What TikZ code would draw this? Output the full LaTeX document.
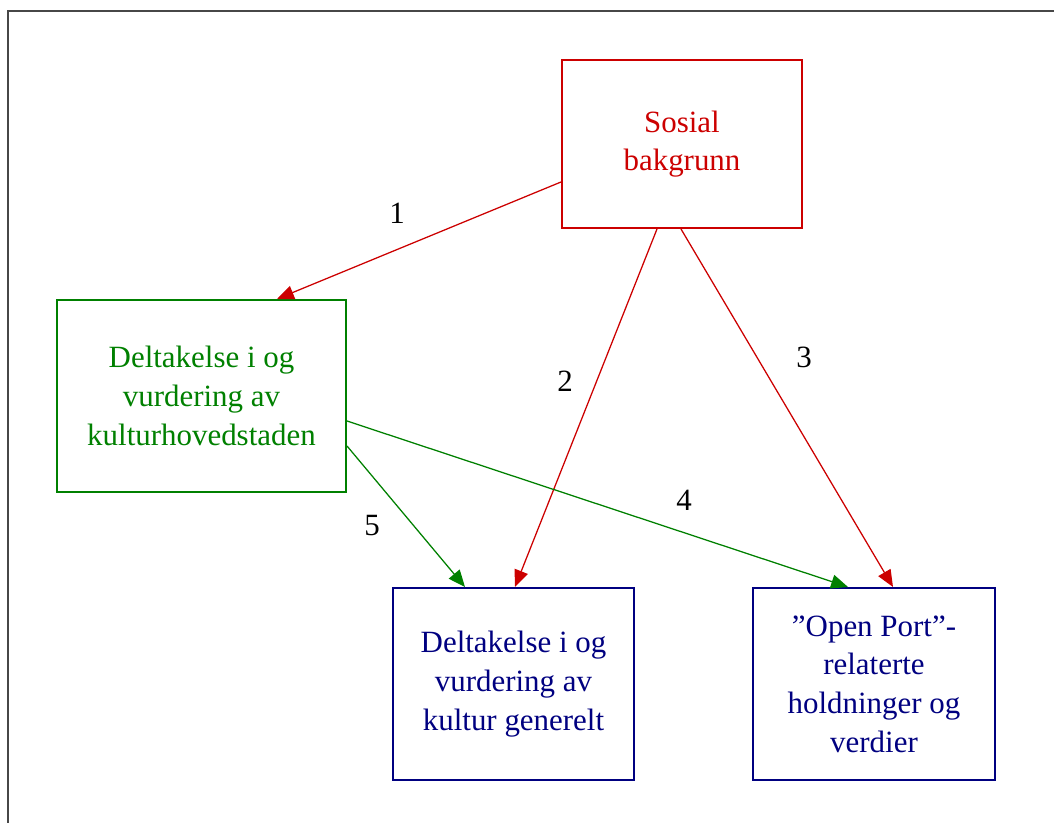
\documentclass[tikz,border=0pt]{standalone}
\usepackage{fontspec}
\setmainfont{Liberation Serif}
\usetikzlibrary{arrows.meta,calc}
\definecolor{bgred}{RGB}{204,0,0}
\definecolor{kgreen}{RGB}{0,128,0}
\definecolor{kblue}{RGB}{0,0,128}
\begin{document}
\begin{tikzpicture}
    [%%%%%%%%%%%%%%%%%%%%%%%%%%%%%%
        x=0.025cm, y=-0.025cm,
        every node/.style={font=\fontsize{22}{27.5}\selectfont},
        box/.style={rectangle, draw, line width=1.4pt, align=center, inner sep=0pt},
        redbox/.style={box, draw=bgred, text=bgred, minimum width=6cm, minimum height=4.2cm},
        greenbox/.style={box, draw=kgreen, text=kgreen, minimum width=7.225cm, minimum height=4.8cm},
        bluebox/.style={box, draw=kblue, text=kblue, minimum width=6.025cm, minimum height=4.8cm},
        link/.style={line width=0.9pt, -{Triangle[length=12pt,width=10pt]}},
        num/.style={inner sep=0pt},
    ]%%%%%%%%%%%%%%%%%%%%%%%%%%%%%%
\useasboundingbox (0,0) rectangle (1054,823);
\draw[line width=2pt, color=black!72] (8,823) -- (8,11) -- (1054,11);

\node[redbox] (sosial) at (682,144) {Sosial\\bakgrunn};
\node[greenbox] (kulturhs) at (201.5,396) {Deltakelse i og\\vurdering av\\kulturhovedstaden};
\node[bluebox] (kultur) at (513.5,684) {Deltakelse i og\\vurdering av\\kultur generelt};
\node[bluebox] (openport) at (874,684) {”Open Port”-\\relaterte\\holdninger og\\verdier};

\draw[link, color=bgred] ($(sosial.west)+(0,38)$) -- ($(kulturhs.north)+(75.5,0)$);
\draw[link, color=bgred] ($(sosial.south)+(-25,0)$) -- ($(kultur.north)+(1.5,0)$);
\draw[link, color=bgred] ($(sosial.south)+(-1,0)$) -- ($(openport.north)+(19,0)$);
\draw[link, color=kgreen] ($(kulturhs.east)+(0,25)$) -- ($(openport.north)+(-26,0)$);
\draw[link, color=kgreen] ($(kulturhs.east)+(0,50)$) -- ($(kultur.north)+(-48.5,0)$);

\node[num] (n1) at (397,213) {1};
\node[num] (n2) at (565,381) {2};
\node[num] (n3) at (804,357) {3};
\node[num] (n4) at (684,500) {4};
\node[num] (n5) at (372,526) {5};
\end{tikzpicture}
\end{document}
